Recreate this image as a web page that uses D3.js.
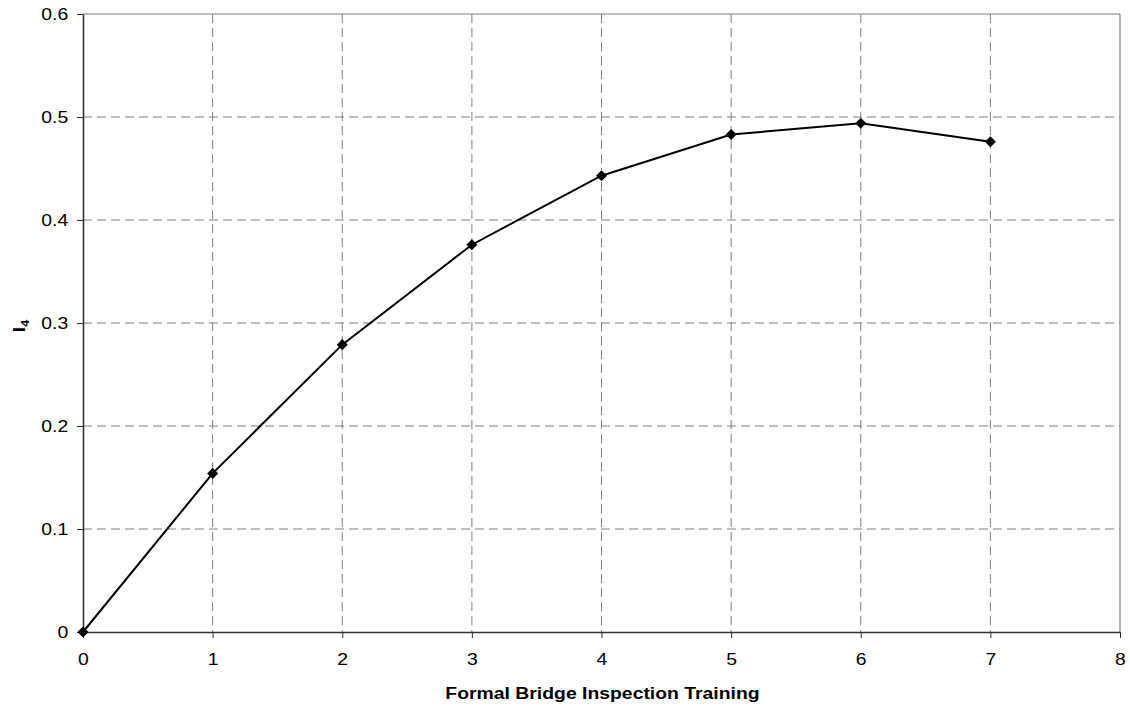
<!DOCTYPE html>
<html>
<head>
<meta charset="utf-8">
<script src="https://cdn.jsdelivr.net/npm/d3@7"></script>
<style>
  html, body { margin: 0; padding: 0; background: #fff; }
  svg { display: block; font-family: "Liberation Sans", Arial, sans-serif; }
</style>
</head>
<body>
<svg id="chart" width="1130" height="709"></svg>
<script>
const xValues = [0, 1, 2, 3, 4, 5, 6, 7];
const yValues = [0, 0.154, 0.279, 0.376, 0.443, 0.483, 0.494, 0.476];
const xTicks = [0, 1, 2, 3, 4, 5, 6, 7, 8];
const yTicks = [0, 0.1, 0.2, 0.3, 0.4, 0.5, 0.6];
const xTitle = "Formal Bridge Inspection Training";

(function () {
const svg = d3.select("#chart");
const mLeft = 83, mRight = 1120, mTop = 14, mBottom = 632;
const FS = 17, SX = 1.14;

const x = d3.scaleLinear().domain([0, 8]).range([mLeft, mRight]);
const y = d3.scaleLinear().domain([0, 0.6]).range([mBottom, mTop]);

// gridlines
svg.append("g").selectAll("line").data(yTicks.filter(d => d > 0 && d < 0.6)).join("line")
  .attr("x1", mLeft).attr("x2", mRight)
  .attr("y1", d => y(d)).attr("y2", d => y(d))
  .attr("stroke", "#808080").attr("stroke-width", 1).attr("stroke-dasharray", "9,5");
svg.append("g").selectAll("line").data(xTicks.filter(d => d > 0 && d < 8)).join("line")
  .attr("y1", mTop).attr("y2", mBottom)
  .attr("x1", d => x(d)).attr("x2", d => x(d))
  .attr("stroke", "#808080").attr("stroke-width", 1).attr("stroke-dasharray", "9,5");

// top and right borders
svg.append("line").attr("x1", mLeft).attr("x2", mRight).attr("y1", mTop).attr("y2", mTop)
  .attr("stroke", "#808080").attr("stroke-width", 1.2);
svg.append("line").attr("x1", mRight).attr("x2", mRight).attr("y1", mTop).attr("y2", mBottom)
  .attr("stroke", "#808080").attr("stroke-width", 1.2);

// axes
const xAxis = svg.append("g").attr("transform", `translate(0,${mBottom})`)
  .call(d3.axisBottom(x).tickValues(xTicks).tickFormat(d3.format("d")).tickSize(6).tickSizeOuter(0).tickPadding(15));
const yAxis = svg.append("g").attr("transform", `translate(${mLeft},0)`)
  .call(d3.axisLeft(y).tickValues(yTicks).tickFormat(d => d === 0 ? "0" : d3.format(".1f")(d)).tickSize(6).tickSizeOuter(0).tickPadding(7));
[xAxis, yAxis].forEach(a => {
  a.select(".domain").attr("stroke", "#333").attr("stroke-width", 1.6);
  a.selectAll(".tick line").attr("stroke", "#333");
  a.selectAll(".tick text").attr("font-size", FS).attr("fill", "#000")
    .attr("font-family", "'Liberation Sans', Arial, sans-serif")
    .attr("transform", `scale(${SX},1)`);
});

// line
svg.append("path").datum(xValues.map((d, i) => [d, yValues[i]]))
  .attr("fill", "none").attr("stroke", "#000").attr("stroke-width", 2)
  .attr("d", d3.line().x(d => x(d[0])).y(d => y(d[1])));

// markers
svg.append("g").selectAll("path").data(xValues.map((d, i) => [d, yValues[i]])).join("path")
  .attr("transform", d => `translate(${x(d[0])},${y(d[1])})`)
  .attr("d", d3.symbol().type(d3.symbolDiamond2).size(78))
  .attr("fill", "#000");

// x title
svg.append("text").attr("transform", `translate(${(mLeft + mRight) / 2 + 1},699) scale(${SX},1)`)
  .attr("text-anchor", "middle").attr("font-weight", "bold").attr("font-size", FS)
  .text(xTitle);

// y title
const yt = svg.append("text").attr("transform", `translate(25,326) rotate(-90) scale(${SX},1)`)
  .attr("text-anchor", "middle").attr("font-weight", "bold").attr("font-size", FS);
yt.append("tspan").text("I");
yt.append("tspan").attr("font-size", 11).attr("dy", 4).text("4");
})();
</script>
</body>
</html>
